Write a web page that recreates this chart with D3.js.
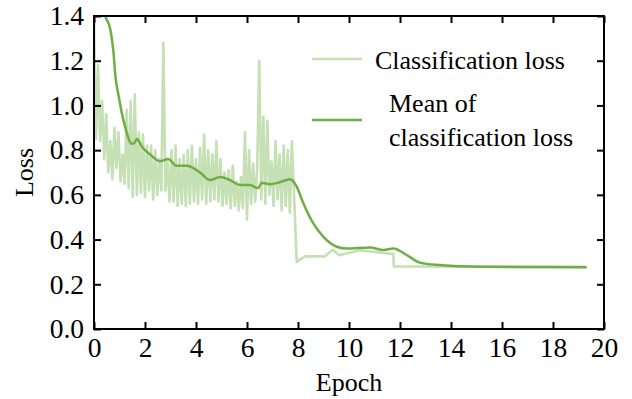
<!DOCTYPE html>
<html><head><meta charset="utf-8">
<script src="https://cdn.jsdelivr.net/npm/d3@7"></script>
<style>body{margin:0;background:#fff}svg{display:block}</style>
</head><body>
<script>
// ---- data ----
const rawEpochs = [0,0.08,0.16,0.24,0.32,0.40,0.48,0.56,0.64,0.72,0.80,0.88,0.96,1.04,1.12,1.20,1.28,1.36,1.44,1.52,1.60,1.68,1.76,1.84,1.92,2.00,2.08,2.16,2.24,2.32,2.40,2.48,2.56,2.64,2.72,2.80,2.88,2.96,3.04,3.12,3.20,3.28,3.36,3.44,3.52,3.60,3.68,3.76,3.84,3.92,4.00,4.08,4.16,4.24,4.32,4.40,4.48,4.56,4.64,4.72,4.80,4.88,4.96,5.04,5.12,5.20,5.28,5.36,5.44,5.52,5.60,5.68,5.76,5.84,5.92,6.00,6.08,6.16,6.24,6.32,6.40,6.48,6.56,6.64,6.72,6.80,6.88,6.96,7.04,7.12,7.20,7.28,7.36,7.44,7.52,7.60,7.68,7.76,7.95,8.27,9.06,9.36,9.62,10.43,11.74,11.76,19.32];
const rawLoss = [1.40,0.85,1.18,0.84,1.02,0.76,0.96,0.70,0.84,0.67,0.90,0.72,0.88,0.66,0.78,0.65,0.98,0.63,1.02,0.59,1.05,0.60,0.88,0.61,0.87,0.59,0.82,0.62,0.82,0.58,0.80,0.60,0.76,0.62,1.28,0.62,0.75,0.57,0.80,0.57,0.82,0.55,0.76,0.56,0.78,0.55,0.80,0.56,0.82,0.57,0.76,0.56,0.81,0.58,0.87,0.56,0.80,0.57,0.78,0.58,0.84,0.57,0.76,0.55,0.70,0.56,0.71,0.54,0.73,0.55,0.66,0.53,0.68,0.54,0.88,0.49,0.80,0.56,0.74,0.57,0.72,1.20,0.58,0.95,0.56,0.93,0.60,0.75,0.55,0.84,0.58,0.78,0.53,0.82,0.55,0.80,0.52,0.84,0.30,0.325,0.325,0.355,0.33,0.352,0.335,0.28,0.278];
const meanEpochs = [0,0.20,0.44,0.64,0.77,0.84,0.97,1.16,1.29,1.46,1.56,1.69,1.88,2.21,2.59,2.91,3.24,3.64,4.16,4.55,4.94,5.33,5.73,6.12,6.43,6.58,6.90,7.22,7.69,7.80,7.95,8.21,8.60,8.99,9.52,9.91,10.82,11.35,11.74,12.26,12.78,13.57,15.14,19.32];
const meanLoss = [1.60,1.50,1.40,1.34,1.23,1.13,1.04,0.93,0.875,0.83,0.83,0.85,0.815,0.78,0.75,0.76,0.73,0.73,0.70,0.666,0.68,0.666,0.644,0.644,0.63,0.654,0.648,0.654,0.67,0.662,0.637,0.562,0.472,0.413,0.368,0.36,0.365,0.353,0.36,0.331,0.297,0.286,0.278,0.276];
const xTicks = [0,2,4,6,8,10,12,14,16,18,20];
const yTicks = [0.0,0.2,0.4,0.6,0.8,1.0,1.2,1.4];
const legendLabels = ["Classification loss", ["Mean of", "classification loss"]];
const colors = {raw: "#c5e0b4", mean: "#70ad47"};

// ---- layout ----
const W = 632, H = 399;
const L = 94, R = 604, T = 16, B = 329;
const font = "'Liberation Serif','Times New Roman',serif";
const fs = 26, tfs = 27.5;

const svg = d3.select("body").append("svg").attr("width", W).attr("height", H);
const x = d3.scaleLinear().domain([0, 20]).range([L, R]);
const y = d3.scaleLinear().domain([0, 1.4]).range([B, T]);

svg.append("clipPath").attr("id", "clip").append("rect")
  .attr("x", L).attr("y", T).attr("width", R - L).attr("height", B - T);

const g = svg.append("g").attr("clip-path", "url(#clip)");
const rawData = rawEpochs.map((e, i) => [e, rawLoss[i]]);
const meanData = meanEpochs.map((e, i) => [e, meanLoss[i]]);

g.append("path").datum(rawData)
  .attr("fill", "none").attr("stroke", colors.raw).attr("stroke-width", 2.6)
  .attr("stroke-linejoin", "round")
  .attr("d", d3.line().x(d => x(d[0])).y(d => y(d[1])));

g.append("path").datum(meanData)
  .attr("fill", "none").attr("stroke", colors.mean).attr("stroke-width", 2.5)
  .attr("d", d3.line().curve(d3.curveMonotoneX).x(d => x(d[0])).y(d => y(d[1])));

// axes with inward ticks
function styleAxis(sel) {
  sel.select(".domain").remove();
  sel.selectAll(".tick line").attr("stroke", "#000").attr("stroke-width", 2);
  sel.selectAll(".tick text").attr("font-family", font).attr("font-size", tfs).attr("fill", "#000");
}
svg.append("g").attr("transform", `translate(0,${B})`)
  .call(d3.axisBottom(x).tickValues(xTicks).tickFormat(d3.format("d")).tickSizeInner(-7).tickPadding(8))
  .call(styleAxis);
svg.append("g").attr("transform", `translate(0,${T})`)
  .call(d3.axisTop(x).tickValues(xTicks).tickFormat("").tickSizeInner(-7))
  .call(styleAxis);
svg.append("g").attr("transform", `translate(${L},0)`)
  .call(d3.axisLeft(y).tickValues(yTicks).tickFormat(d3.format(".1f")).tickSizeInner(-7).tickPadding(10))
  .call(styleAxis);
svg.append("g").attr("transform", `translate(${R},0)`)
  .call(d3.axisRight(y).tickValues(yTicks).tickFormat("").tickSizeInner(-7))
  .call(styleAxis);

svg.append("rect").attr("x", L).attr("y", T).attr("width", R - L).attr("height", B - T)
  .attr("fill", "none").attr("stroke", "#000").attr("stroke-width", 2);

// axis titles
svg.append("text").attr("x", (L + R) / 2).attr("y", 391).attr("text-anchor", "middle")
  .attr("font-family", font).attr("font-size", fs).text("Epoch");
svg.append("text").attr("transform", `translate(33,${(T + B) / 2}) rotate(-90)`)
  .attr("text-anchor", "middle").attr("font-family", font).attr("font-size", fs).text("Loss");

// legend
const lg = svg.append("g");
lg.append("line").attr("x1", 312).attr("x2", 362).attr("y1", 59).attr("y2", 59)
  .attr("stroke", colors.raw).attr("stroke-width", 2.5);
lg.append("text").attr("x", 375).attr("y", 69).attr("font-family", font).attr("font-size", fs).text(legendLabels[0]);
lg.append("line").attr("x1", 312).attr("x2", 362).attr("y1", 120).attr("y2", 120)
  .attr("stroke", colors.mean).attr("stroke-width", 2.5);
lg.append("text").attr("x", 389).attr("y", 112).attr("font-family", font).attr("font-size", fs).text(legendLabels[1][0]);
lg.append("text").attr("x", 389).attr("y", 146).attr("font-family", font).attr("font-size", fs).text(legendLabels[1][1]);
</script>
</body></html>
